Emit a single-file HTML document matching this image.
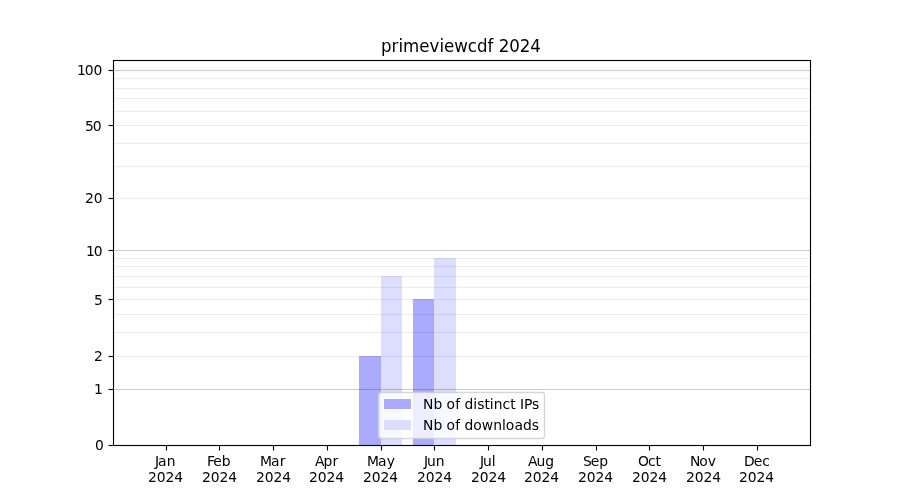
<!DOCTYPE html>
<html lang="en">
<head>
<meta charset="utf-8">
<title>primeviewcdf 2024</title>
<style>
html,body{margin:0;padding:0;background:#fff;}
body{width:900px;height:500px;overflow:hidden;}
svg{display:block;}
text{font-family:"DejaVu Sans","Liberation Sans",sans-serif;font-size:13.889px;fill:#000;}
.title{font-size:16.667px;}
</style>
</head>
<body>
<svg width="900" height="500" viewBox="0 0 900 500">
<rect x="0" y="0" width="900" height="500" fill="#fff"/>
<!-- bars -->
<g shape-rendering="crispEdges">
<rect x="359" y="356" width="22" height="89" fill="#aaaaff"/>
<rect x="413" y="299" width="21" height="146" fill="#aaaaff"/>
<rect x="381" y="276" width="21" height="169" fill="#ddddff"/>
<rect x="434" y="258" width="22" height="187" fill="#ddddff"/>
</g>
<!-- horizontal grid (1.11px lines: solid centre row + faint anti-aliased fringe rows) -->
<g shape-rendering="crispEdges" fill="#000">
<path fill-opacity="0.00389" d="M113 77H811V80H113ZM113 87H811V90H113ZM113 97H811V100H113ZM113 110H811V113H113ZM113 124H811V127H113ZM113 142H811V145H113ZM113 165H811V168H113ZM113 197H811V200H113ZM113 257H811V260H113ZM113 265H811V268H113ZM113 275H811V278H113ZM113 286H811V289H113ZM113 298H811V301H113ZM113 313H811V316H113ZM113 331H811V334H113ZM113 355H811V358H113Z"/>
<path fill-opacity="0.06637" d="M113 78H811V79H113ZM113 88H811V89H113ZM113 98H811V99H113ZM113 111H811V112H113ZM113 125H811V126H113ZM113 143H811V144H113ZM113 166H811V167H113ZM113 198H811V199H113ZM113 258H811V259H113ZM113 266H811V267H113ZM113 276H811V277H113ZM113 287H811V288H113ZM113 299H811V300H113ZM113 314H811V315H113ZM113 332H811V333H113ZM113 356H811V357H113Z"/>
</g>
<g shape-rendering="crispEdges" fill="#000">
<path fill-opacity="0.01110" d="M113 69H811V72H113ZM113 249H811V252H113ZM113 388H811V391H113Z"/>
<path fill-opacity="0.19102" d="M113 70H811V71H113ZM113 250H811V251H113ZM113 389H811V390H113Z"/>
</g>
<!-- legend -->
<path d="M381.5 392.5L542.5 392.5Q544.5 392.5 544.5 395.5L544.5 435.5Q544.5 438.5 542.5 438.5L381.5 438.5Q378.5 438.5 378.5 435.5L378.5 395.5Q378.5 392.5 381.5 392.5Z" fill="#fff" fill-opacity="0.8" stroke="#ccc" stroke-opacity="0.8" stroke-width="1.389"/>
<g shape-rendering="crispEdges"><rect x="384" y="399" width="27" height="10" fill="#aaaaff"/><rect x="384" y="420" width="27" height="10" fill="#ddddff"/></g>
<text x="423.07 433.445 442.242 446.414 455.148 460.039 464.445 473.257 477.226 484.461 489.773 493.632 502.429 510.179 515.492 519.898 523.992 532.117" y="409">Nb of distinct IPs</text>
<text x="423.07 433.445 442.242 446.414 455.148 460.039 464.445 473.257 481.742 493.211 501.882 505.742 514.476 522.976 531.664" y="430">Nb of downloads</text>
<!-- ticks and spines -->
<g stroke="#000" stroke-width="1.111" fill="none">
<line x1="166.5" x2="166.5" y1="445.5" y2="450.5"/>
<line x1="219.5" x2="219.5" y1="445.5" y2="450.5"/>
<line x1="273.5" x2="273.5" y1="445.5" y2="450.5"/>
<line x1="327.5" x2="327.5" y1="445.5" y2="450.5"/>
<line x1="381.5" x2="381.5" y1="445.5" y2="450.5"/>
<line x1="434.5" x2="434.5" y1="445.5" y2="450.5"/>
<line x1="488.5" x2="488.5" y1="445.5" y2="450.5"/>
<line x1="542.5" x2="542.5" y1="445.5" y2="450.5"/>
<line x1="596.5" x2="596.5" y1="445.5" y2="450.5"/>
<line x1="649.5" x2="649.5" y1="445.5" y2="450.5"/>
<line x1="703.5" x2="703.5" y1="445.5" y2="450.5"/>
<line x1="757.5" x2="757.5" y1="445.5" y2="450.5"/>
<line x1="108.5" x2="113.5" y1="445.5" y2="445.5"/>
<line x1="108.5" x2="113.5" y1="389.5" y2="389.5"/>
<line x1="108.5" x2="113.5" y1="356.5" y2="356.5"/>
<line x1="108.5" x2="113.5" y1="299.5" y2="299.5"/>
<line x1="108.5" x2="113.5" y1="250.5" y2="250.5"/>
<line x1="108.5" x2="113.5" y1="198.5" y2="198.5"/>
<line x1="108.5" x2="113.5" y1="125.5" y2="125.5"/>
<line x1="108.5" x2="113.5" y1="70.5" y2="70.5"/>
</g>
<g shape-rendering="crispEdges" fill="#000">
<path fill-opacity="0.0555" d="M113 59H811V60H812V61H811V62H113V61H112V60H113Z"/>
<path fill-opacity="0.0555" d="M113 444H811V445H812V446H811V447H113V446H112V445H113Z"/>
<path fill-opacity="0.0555" d="M112 60H113V59H114V60H115V446H114V447H113V446H112Z"/>
<path fill-opacity="0.0555" d="M809 60H810V59H811V60H812V446H811V447H810V446H809Z"/>
<path d="M113 60H811V446H113ZM114 61V445H810V61Z" fill-rule="evenodd"/>
</g>
<!-- x tick labels -->
<text x="154.879 157.957 166.722" y="466">Jan</text><text x="147.918 156.73 165.558 174.137" y="482">2024</text>
<text x="206.897 213.241 221.772" y="466">Feb</text><text x="201.905 210.717 219.545 228.374" y="482">2024</text>
<text x="259.953 270.922 279.672" y="466">Mar</text><text x="255.891 264.703 273.531 282.36" y="482">2024</text>
<text x="314.901 323.386 332.448" y="466">Apr</text><text x="308.878 317.69 326.518 335.346" y="482">2024</text>
<text x="366.926 377.895 386.645" y="466">May</text><text x="362.989 371.676 380.504 389.332" y="482">2024</text>
<text x="423.913 426.991 435.788" y="466">Jun</text><text x="416.976 425.663 434.491 443.32" y="482">2024</text>
<text x="479.993 483.071 491.868" y="466">Jul</text><text x="470.962 479.649 488.477 497.305" y="482">2024</text>
<text x="527.933 536.418 545.214" y="466">Aug</text><text x="523.949 532.636 541.464 550.293" y="482">2024</text>
<text x="582.888 590.685 599.232" y="466">Sep</text><text x="577.935 586.747 595.575 604.154" y="482">2024</text>
<text x="637.953 648.109 655.375" y="466">Oct</text><text x="631.922 640.734 649.562 658.14" y="482">2024</text>
<text x="689.892 699.142 707.626" y="466">Nov</text><text x="685.908 694.72 703.548 712.126" y="482">2024</text>
<text x="743.996 753.668 762.215" y="466">Dec</text><text x="738.895 747.707 756.535 765.364" y="482">2024</text>
<!-- y tick labels -->
<text x="94.952" y="450">0</text>
<text x="93.952" y="394">1</text>
<text x="93.952" y="361">2</text>
<text x="93.952" y="305">5</text>
<text x="85.999 93.686" y="256">10</text>
<text x="84.999 93.811" y="203">20</text>
<text x="84.999 92.811" y="131">50</text>
<text x="76.921 84.733 93.561" y="75">100</text>
<!-- title -->
<text class="title" transform="translate(0,52) scale(1,1.02)" x="380.922 391.484 398.453 402.969 419.188 429.438 439.422 443.922 454.172 467.797 476.953 487.516 493.391 498.672 509.281 519.875 530.219" y="0">primeviewcdf 2024</text>
</svg>
</body>
</html>
